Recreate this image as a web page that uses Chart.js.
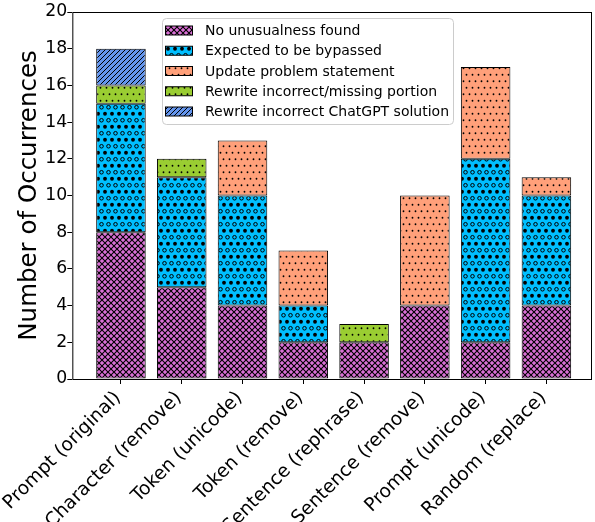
<!DOCTYPE html>
<html>
<head>
<meta charset="utf-8">
<script src="https://cdn.jsdelivr.net/npm/chart.js@4.4.1/dist/chart.umd.min.js"></script>
<style>
  html, body { margin: 0; padding: 0; background: #fff; }
  #wrap { width: 595px; height: 522px; }
</style>
</head>
<body>
<div id="wrap"><canvas id="chart" width="595" height="522"></canvas></div>
<script>
// Categories along the x axis
const methods = ['Prompt (original)', 'Character (remove)', 'Token (unicode)', 'Token (remove)',
  'Sentence (rephrase)', 'Sentence (remove)', 'Prompt (unicode)', 'Random (replace)'];

// Stacked series, one value per method
const noUnusual = [8, 5, 4, 2, 2, 4, 2, 4];
const expectedBypass = [7, 6, 6, 2, 0, 0, 10, 6];
const updateStatement = [0, 0, 3, 3, 0, 6, 5, 1];
const rewriteMissing = [1, 1, 0, 0, 1, 0, 0, 0];
const rewriteChatGPT = [2, 0, 0, 0, 0, 0, 0, 0];

const seriesNames = ['No unusualness found', 'Expected to be bypassed', 'Update problem statement',
  'Rewrite incorrect/missing portion', 'Rewrite incorrect ChatGPT solution'];

const yTicks = [0, 2, 4, 6, 8, 10, 12, 14, 16, 18, 20];

Chart.defaults.font.family = '"DejaVu Sans", sans-serif';
Chart.defaults.color = '#000';

// Build a hatch pattern on a small tile
function makePattern(bg, w, h, draw) {
    const c = document.createElement('canvas');
    c.width = w;
    c.height = h;
    const g = c.getContext('2d');
    g.fillStyle = bg;
    g.fillRect(0, 0, w, h);
    g.strokeStyle = '#000';
    g.fillStyle = '#000';
    g.lineWidth = 1;
    draw(g, w, h);
    return g.createPattern(c, 'repeat');
}

function diagonals(g, s, forward, back) {
    for (let k = -1; k <= 1; k++) {
        g.beginPath();
        if (forward) { g.moveTo(k * s, s); g.lineTo(k * s + s, 0); }
        if (back) { g.moveTo(k * s, 0); g.lineTo(k * s + s, s); }
        g.stroke();
    }
}

function dot(g, x, y, r) {
    g.beginPath();
    g.arc(x, y, r, 0, Math.PI * 2);
    g.fill();
}

function ring(g, x, y, r) {
    g.beginPath();
    g.arc(x, y, r, 0, Math.PI * 2);
    g.stroke();
}

const crossHatch = makePattern('#da70d6', 6, 6, (g, w) => { g.lineWidth = 1.1; diagonals(g, w, true, true); });
const circleHatch = makePattern('#00bfff', 7, 13, g => {
    ring(g, 3.5, 3.25, 1.8);
    [0, 7].forEach(x => dot(g, x, 9.75, 1.9));
});
const dotHatch = bg => makePattern(bg, 6, 13, g => {
    dot(g, 1.5, 3.25, 0.9);
    dot(g, 4.5, 9.75, 0.9);
});
const slashHatch = makePattern('#6495ed', 5, 5, (g, w) => diagonals(g, w, true, false));

const fills = [crossHatch, circleHatch, dotHatch('#ffa07a'), dotHatch('#9acd32'), slashHatch];
const series = [noUnusual, expectedBypass, updateStatement, rewriteMissing, rewriteChatGPT];

// Legend box drawn inside the plot, like the original
const legendBox = {
    id: 'legendBox',
    afterDraw(chart) {
        const ctx = chart.ctx;
        ctx.save();
        ctx.beginPath();
        ctx.roundRect(162.5, 18.5, 291, 106, 4);
        ctx.fillStyle = 'rgba(255,255,255,0.8)';
        ctx.fill();
        ctx.strokeStyle = '#cccccc';
        ctx.lineWidth = 1;
        ctx.stroke();
        ctx.font = '14px "DejaVu Sans", sans-serif';
        ctx.textBaseline = 'middle';
        chart.data.datasets.forEach((ds, i) => {
            const cy = 30.5 + i * 20.25;
            ctx.fillStyle = ds.backgroundColor;
            ctx.fillRect(165.5, cy - 4.5, 27, 9);
            ctx.strokeStyle = '#000';
            ctx.strokeRect(165.5, cy - 4.5, 27, 9);
            ctx.fillStyle = '#000';
            ctx.fillText(ds.label, 205, cy + 1);
        });
        ctx.restore();
    }
};

// Box round the plot area
const frame = {
    id: 'frame',
    afterDatasetsDraw(chart) {
        const a = chart.chartArea;
        const ctx = chart.ctx;
        ctx.save();
        ctx.strokeStyle = '#000';
        ctx.lineWidth = 1;
        ctx.strokeRect(a.left + 0.5, a.top + 0.5, a.right - a.left - 1, a.bottom - a.top);
        ctx.restore();
    }
};

new Chart(document.getElementById('chart'), {
    type: 'bar',
    data: {
        datasets: series.map((vals, s) => ({
            label: seriesNames[s],
            data: vals.map((v, i) => ({ x: i, y: v || null })),
            backgroundColor: fills[s],
            borderColor: '#000',
            borderWidth: 1,
            borderSkipped: false,
            categoryPercentage: 0.815,
            barPercentage: 1
        }))
    },
    options: {
        responsive: false,
        animation: false,
        layout: { padding: { left: 0, right: 3, top: 12, bottom: 0 } },
        plugins: {
            legend: { display: false },
            tooltip: { enabled: false }
        },
        scales: {
            x: {
                type: 'linear',
                stacked: true,
                offset: false,
                min: -0.8,
                max: 7.75,
                afterBuildTicks: s => { s.ticks = methods.map((_, i) => ({ value: i })); },
                afterFit: s => { s.height = 143; },
                border: { display: false },
                grid: { offset: false, drawOnChartArea: false, tickLength: 5, color: '#000' },
                ticks: {
                    autoSkip: false,
                    minRotation: 45,
                    maxRotation: 45,
                    padding: 3,
                    labelOffset: -3,
                    font: { size: 18.7 },
                    callback: v => methods[v]
                }
            },
            y: {
                stacked: true,
                min: 0,
                max: 20,
                afterBuildTicks: s => { s.ticks = yTicks.map(v => ({ value: v })); },
                afterFit: s => { s.width = 71; },
                border: { display: false },
                grid: { drawOnChartArea: false, tickLength: 5, color: '#000' },
                ticks: { padding: 0, font: { size: 17.3 } },
                title: {
                    display: true,
                    text: 'Number of Occurrences',
                    font: { size: 24.5 },
                    padding: { top: 14, bottom: 0 }
                }
            }
        }
    },
    plugins: [legendBox, frame]
});
</script>
</body>
</html>
